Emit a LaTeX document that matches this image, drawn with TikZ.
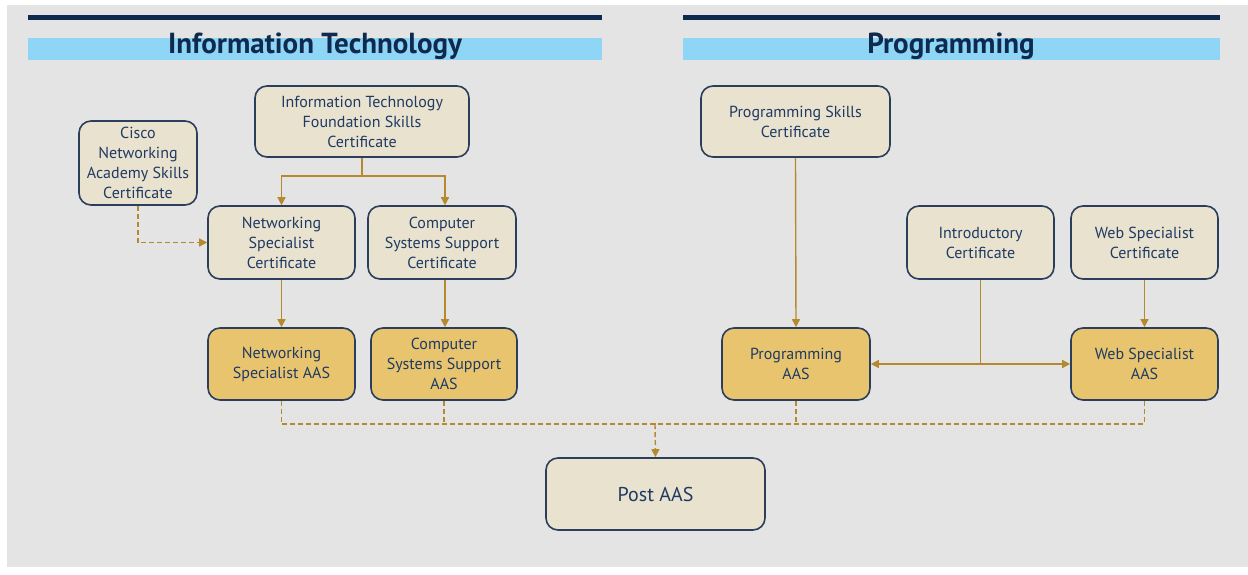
\documentclass[tikz,border=0pt]{standalone}
\usepackage{fontspec}
\setmainfont{PT Sans}
\newfontfamily\titlefont{PT Sans Bold}
\usetikzlibrary{arrows.meta}
\definecolor{bordernavy}{HTML}{2B3F5C}
\definecolor{txtnavy}{HTML}{1F3A63}
\definecolor{beige}{HTML}{E9E2CF}
\definecolor{gold}{HTML}{E9C46E}
\definecolor{linegold}{HTML}{B58A2E}
\definecolor{headnavy}{HTML}{0E2A4E}
\definecolor{headblue}{HTML}{8FD5F5}
\definecolor{bggrey}{HTML}{E4E4E4}
\tikzset{
  box/.style={draw=bordernavy, line width=1.6pt, rounded corners=12pt, align=center,
    text=txtnavy, font=\fontsize{16}{20}\selectfont, inner sep=0pt},
  cert/.style={box, fill=beige},
  aas/.style={box, fill=gold},
  conn/.style={draw=linegold, line width=1.4pt},
  arr/.style={conn, -{Triangle[length=8pt,width=8pt]}},
  dsh/.style={conn, dash pattern=on 5pt off 3pt},
  title/.style={text=headnavy, font=\titlefont\fontsize{29}{31}\selectfont, inner sep=0pt, anchor=base}
}
\begin{document}
\begin{tikzpicture}[x=1pt,y=-1pt]
\useasboundingbox (0,0) rectangle (1248,574);
\fill[white] (0,0) rectangle (1248,574);
\fill[bggrey] (7,5) rectangle (1248,567);
% headers
\draw[headnavy, line width=5pt] (28,17.5) -- (602,17.5);
\fill[headblue] (28,38) rectangle (602,60);
\node[title] (ttl1) at (315,53) {Information Technology};
\draw[headnavy, line width=5pt] (683,17.5) -- (1220,17.5);
\fill[headblue] (683,38) rectangle (1220,60);
\node[title] (ttl2) at (951,53) {Programming};
% nodes
\node[cert, minimum width=214pt, minimum height=71pt] (itf) at (362,121.5) {Information Technology\\Foundation Skills\\Certificate};
\node[cert, minimum width=118pt, minimum height=84pt] (cisco) at (138,163) {Cisco\\Networking\\Academy Skills\\Certificate};
\node[cert, minimum width=147pt, minimum height=73pt] (nsc) at (281.5,242.5) {Networking\\Specialist\\Certificate};
\node[cert, minimum width=148pt, minimum height=73pt] (cssc) at (442,242.5) {Computer\\Systems Support\\Certificate};
\node[aas, minimum width=147pt, minimum height=72pt] (naas) at (281.5,364) {Networking\\Specialist AAS};
\node[aas, minimum width=146pt, minimum height=72pt] (caas) at (444,364) {Computer\\Systems Support\\AAS};
\node[cert, minimum width=189pt, minimum height=71pt] (psc) at (795.5,121.5) {Programming Skills\\Certificate};
\node[cert, minimum width=147pt, minimum height=73pt] (intro) at (980.5,242.5) {Introductory\\Certificate};
\node[cert, minimum width=147pt, minimum height=73pt] (wsc) at (1144.5,242.5) {Web Specialist\\Certificate};
\node[aas, minimum width=148pt, minimum height=72pt] (paas) at (796,364) {Programming\\AAS};
\node[aas, minimum width=147pt, minimum height=72pt] (waas) at (1144.5,364) {Web Specialist\\AAS};
\node[cert, minimum width=219pt, minimum height=72pt, font=\fontsize{20}{24}\selectfont] (post) at (655.5,494) {Post AAS};
% connectors
\coordinate (split) at ([yshift=-18pt]itf.south);
\draw[conn] (itf.south) -- (split);
\draw[arr] (split) -| (nsc.north);
\draw[arr] (split) -| ([xshift=3pt]cssc.north);
\draw[arr, dash pattern=on 5pt off 3pt] (cisco.south) |- (nsc.west);
\draw[arr] (nsc.south) -- (naas.north);
\draw[arr] ([xshift=3pt]cssc.south) -- ([xshift=1pt]caas.north);
\draw[arr] (psc.south) -- (paas.north);
\draw[arr] (wsc.south) -- (waas.north);
\draw[arr] (intro.south) |- (paas.east);
\draw[arr] (intro.south) |- (waas.west);
\coordinate (bus) at (655,424);
\draw[dsh] (naas.south) |- (bus) -| (waas.south);
\draw[dsh] (caas.south) -- (caas.south |- bus);
\draw[dsh] (paas.south) -- (paas.south |- bus);
\draw[arr, dash pattern=on 5pt off 3pt] (bus) -- (post.north);
\end{tikzpicture}
\end{document}
